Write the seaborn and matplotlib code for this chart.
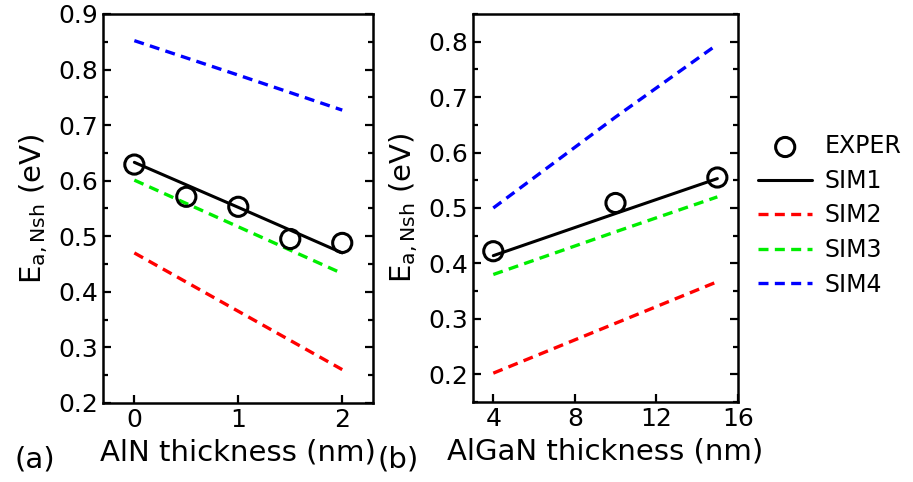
import matplotlib
matplotlib.use("Agg")
import matplotlib.pyplot as plt
import seaborn as sns
from matplotlib.ticker import MultipleLocator

# panel (a): AlN thickness
aln_exp_x = [0, 0.5, 1, 1.5, 2]
aln_exp_y = [0.629, 0.571, 0.553, 0.495, 0.488]
aln_sim_x = [0, 1, 2]
aln_sim1 = [0.633, 0.552, 0.470]
aln_sim2 = [0.470, 0.365, 0.260]
aln_sim3 = [0.601, 0.517, 0.433]
aln_sim4 = [0.852, 0.790, 0.727]

# panel (b): AlGaN thickness
algan_exp_x = [4, 10, 15]
algan_exp_y = [0.422, 0.509, 0.555]
algan_sim_x = [4, 10, 15]
algan_sim1 = [0.414, 0.490, 0.553]
algan_sim2 = [0.202, 0.292, 0.367]
algan_sim3 = [0.380, 0.457, 0.520]
algan_sim4 = [0.500, 0.664, 0.795]

sim_colors = {"SIM1": "black", "SIM2": "#ff0000", "SIM3": "#00ee00", "SIM4": "#0000ff"}

sns.set_style("ticks")
plt.rcParams['font.family'] = ['DejaVu Sans']
plt.rcParams['mathtext.fontset'] = 'dejavusans'
plt.rcParams['text.color'] = 'black'
plt.rcParams['axes.labelcolor'] = 'black'
plt.rcParams['xtick.color'] = 'black'
plt.rcParams['ytick.color'] = 'black'

fig = plt.figure(figsize=(9.13, 4.82), dpi=100)
ax1 = fig.add_axes([0.113, 0.164, 0.296, 0.807])
ax2 = fig.add_axes([0.518, 0.166, 0.290, 0.805])


def draw_panel(ax, exp_x, exp_y, sim_x, sims):
    sns.scatterplot(x=exp_x, y=exp_y, ax=ax, marker='o', s=190,
                    facecolor='none', edgecolor='black', linewidth=2.2,
                    label='EXPER', zorder=5)
    for name, vals in sims.items():
        if name == "SIM1":
            sns.lineplot(x=sim_x, y=vals, ax=ax, color=sim_colors[name],
                         linewidth=2.2, label=name)
        else:
            sns.lineplot(x=sim_x, y=vals, ax=ax, color=sim_colors[name],
                         linewidth=2.4, linestyle=(0, (3, 1.9)), label=name)
    for sp in ax.spines.values():
        sp.set_linewidth(1.8)
        sp.set_color('black')
    ax.tick_params(axis='both', which='both', direction='in', labelsize=18,
                   width=1.6, colors='black', labelcolor='black')
    ax.tick_params(axis='y', which='both', right=True)
    ax.tick_params(axis='both', which='major', length=6)
    ax.tick_params(axis='y', which='minor', length=3.5)
    ax.yaxis.set_minor_locator(MultipleLocator(0.05))
    ax.set_ylabel(r'E$_{\mathregular{a,Nsh}}$ (eV)', fontsize=21, labelpad=6,
                  color='black')
    ax.get_legend().remove()


draw_panel(ax1, aln_exp_x, aln_exp_y, aln_sim_x,
           {"SIM1": aln_sim1, "SIM2": aln_sim2, "SIM3": aln_sim3, "SIM4": aln_sim4})
ax1.set_xlim(-0.3, 2.3)
ax1.set_ylim(0.2, 0.9)
ax1.set_xticks([0, 1, 2])
ax1.set_yticks([0.2, 0.3, 0.4, 0.5, 0.6, 0.7, 0.8, 0.9])
ax1.set_xlabel('AlN thickness (nm)', fontsize=21, labelpad=5, color='black')

draw_panel(ax2, algan_exp_x, algan_exp_y, algan_sim_x,
           {"SIM1": algan_sim1, "SIM2": algan_sim2, "SIM3": algan_sim3, "SIM4": algan_sim4})
ax2.set_xlim(3, 16)
ax2.set_ylim(0.15, 0.85)
ax2.set_xticks([4, 8, 12, 16])
ax2.set_yticks([0.2, 0.3, 0.4, 0.5, 0.6, 0.7, 0.8])
ax2.set_xlabel('AlGaN thickness (nm)', fontsize=21, labelpad=5, color='black')

fig.text(0.016, 0.03, '(a)', fontsize=21, color='black')
fig.text(0.414, 0.03, '(b)', fontsize=21, color='black')

handles, labels = ax2.get_legend_handles_labels()
fig.legend(handles, labels, loc='center left', bbox_to_anchor=(0.807, 0.553),
           frameon=False, fontsize=17, handlelength=2.3, handletextpad=0.5,
           labelspacing=0.45, labelcolor='black')

fig.savefig('out.png', dpi=100)
